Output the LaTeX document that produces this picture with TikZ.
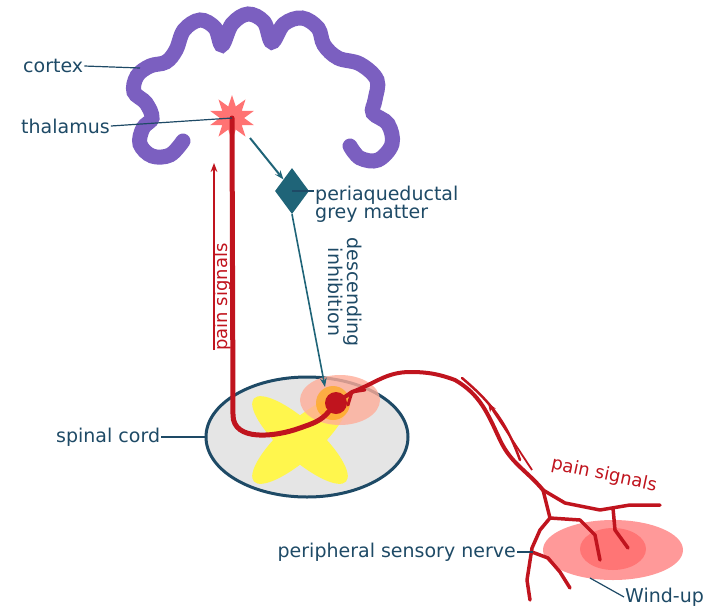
\documentclass[tikz,border=0pt]{standalone}
\usepackage{fontspec}
\setmainfont{DejaVu Sans}
\usetikzlibrary{shapes.geometric,arrows.meta}
\definecolor{lab}{HTML}{1E4A66}
\definecolor{nred}{HTML}{C0141E}
\definecolor{purp}{HTML}{7B5FC0}
\definecolor{teal}{HTML}{1F6478}
\begin{document}
\begin{tikzpicture}[x=1pt,y=-1pt,
  lbl/.style={text=lab,font=\fontsize{19}{18}\selectfont,inner sep=1pt},
  rlbl/.style={text=nred,font=\fontsize{18}{18}\selectfont,inner sep=1pt},
  ptr/.style={draw=lab,line width=1.2pt},
  nerve/.style={draw=nred,line width=4pt,line cap=round,line join=round}]
\useasboundingbox (0,0) rectangle (720,614);
% cortex
\draw[purp,line width=15pt,line cap=round] plot[smooth,tension=0.6] coordinates{
(183,141)(170,155)(152,156)(140,144)(143,128)(152,118)(146,103)(134,92)(137,76)(150,66)(166,62)(176,50)(184,30)(200,20)(215,28)(222,45)(232,24)(248,14)(264,22)(272,42)(284,24)(302,18)(318,28)(324,45)(338,58)(360,64)(377,80)(375,100)(373,113)(388,124)(392,144)(378,160)(360,158)(350,146)};
% spinal cord
\node[draw=lab,line width=3pt,fill=gray!20,ellipse,minimum width=202pt,minimum height=120pt] (sc) at (307,437) {};
\fill[yellow!70] (300,440) ellipse[x radius=62pt,y radius=19pt,rotate=42];
\fill[yellow!70] (300,440) ellipse[x radius=62pt,y radius=19pt,rotate=-42];
\fill[red!60!orange!40,opacity=0.8] (340,400) ellipse[x radius=40pt,y radius=25pt];
\fill[orange!70!yellow,opacity=0.6] (333,403) circle[radius=17pt];
% thalamus, PAG
\node[star,star points=10,star point ratio=1.9,fill=red!55!white,minimum size=46pt,inner sep=0pt] (th) at (232,118) {};
\node[diamond,fill=teal,minimum width=34pt,minimum height=46pt,inner sep=0pt] (pag) at (292,191) {};
\node[circle,fill=nred,minimum size=22pt,inner sep=0pt] (dot) at (336,403) {};
\draw[teal,line width=2pt,-{Stealth[length=9pt]}] (250,138) -- (pag.north west);
\draw[teal,line width=1.6pt,-{Stealth[length=9pt]}] (pag.south) -- (325,387);
% red ascending
\draw[nerve,line width=5pt] (th.center) -- (233,415) to[out=-90,in=200] (300,428) to[out=20,in=230] (dot);
\draw[nred,line width=1.8pt,-{Stealth[length=9pt]}] (214,350) -- (214,163);
\node[rlbl,rotate=90] (ps1) at (223,297) {pain signals};
\node[lbl,rotate=-90,align=center] (di) at (345,292) {descending\\inhibition};
% peripheral nerve
\coordinate (j) at (543,490);
\draw[nerve] (dot) -- (352,392) to[out=20,in=180] (410,372) to[out=0,in=160] (455,380) to[out=-30,in=115] (500,440) to[out=-65,in=130] (j);
\draw[nerve,line width=3pt] (348,405) -- (352,392) -- (365,390);
\draw[nerve,line width=2.5pt] (462,378) to[out=-40,in=110] (520,460);
\fill[red!50!white,opacity=0.8] (613,550) ellipse[x radius=70pt,y radius=30pt];
\fill[red!60!white,opacity=0.7] (613,549) ellipse[x radius=33pt,y radius=21pt];
\draw[nerve,line width=3.5pt] (j) -- (565,503) -- (600,510) -- (630,505) -- (660,505);
\draw[nerve,line width=3.5pt] (j) -- (550,518) -- (540,530) -- (532,548) -- (527,580) -- (530,600);
\draw[nerve,line width=3.5pt] (550,518) -- (580,520) -- (595,535) -- (600,560);
\draw[nerve,line width=3.5pt] (613,508) -- (615,530) -- (628,548);
\draw[nerve,line width=3.5pt] (532,552) -- (548,558) -- (560,572) -- (570,588);
\draw[nred,line width=1.8pt,-{Stealth[length=9pt]}] (532,470) -- (488,403);
\node[rlbl,rotate=-12] (ps2) at (604,475) {pain signals};
% labels
\node[lbl,anchor=west] (lc) at (22,66) {cortex};
\draw[ptr] (lc.east) -- (140,68);
\node[lbl,anchor=west] (lt) at (20,126) {thalamus};
\draw[ptr] (lt.east) -- (th.center);
\node[lbl,anchor=west,align=left] (lp) at (314,204) {periaqueductal\\grey matter};
\draw[ptr] (pag.center) -- (lp.west|-pag.center);
\node[lbl,anchor=west] (ls) at (55,437) {spinal cord};
\draw[ptr] (ls.east) -- (sc.west);
\node[lbl,anchor=east] (ln) at (517,552) {peripheral sensory nerve};
\draw[ptr] (ln.east) -- (533,552);
\node[lbl,anchor=west] (lw) at (624,597) {Wind-up};
\coordinate (wu) at (590,578);
\draw[ptr] (wu) -- (lw.west);
\end{tikzpicture}
\end{document}
